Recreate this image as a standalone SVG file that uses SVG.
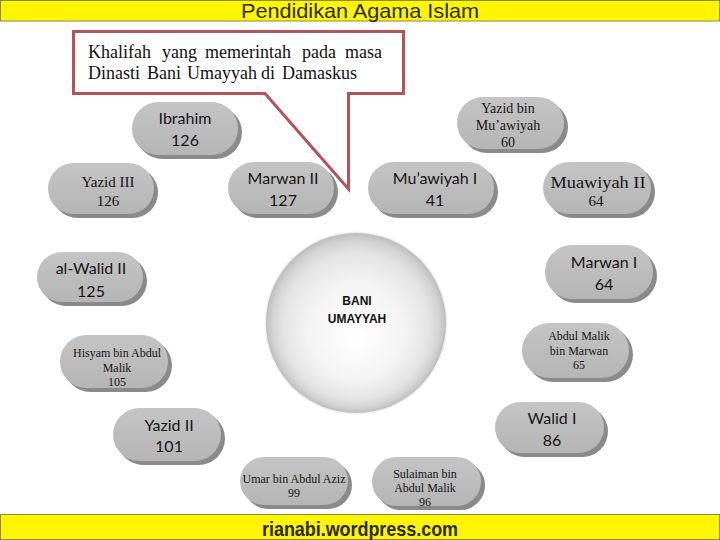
<svg xmlns="http://www.w3.org/2000/svg" width="720" height="540" viewBox="0 0 720 540">
<style>
  .banner{fill:#fff500;stroke:#8c8a3c;stroke-width:1}
  .btxt{font-family:"Liberation Sans",Arial,sans-serif;fill:#2a2a1a;text-anchor:middle}
  .pill{fill:url(#pillg)}
  .shadow{fill:#8a8a8a}
  .sans{font-family:Lato,"Liberation Sans",sans-serif;font-size:16px;fill:#151515;text-anchor:middle}
  .serif{font-family:"Liberation Serif","Times New Roman",serif;fill:#151515;text-anchor:middle}
  .s12{font-size:12px}
  .s14{font-size:14px}
  .s15{font-size:15px}
  .callout{fill:#ffffff;stroke:#b35558;stroke-width:3;stroke-linejoin:miter}
  .ctxt{font-family:"Liberation Serif","Times New Roman",serif;font-size:18px;fill:#111}
  .center{font-family:"Liberation Sans",Arial,sans-serif;font-size:12px;font-weight:bold;fill:#111;text-anchor:middle}
</style>
<defs>
  <linearGradient id="pillg" x1="0" y1="0" x2="0" y2="1">
    <stop offset="0" stop-color="#c4c4c4"/>
    <stop offset="1" stop-color="#b5b5b5"/>
  </linearGradient>
  <radialGradient id="ball" cx="0.5" cy="0.5" r="0.5" fx="0.5" fy="0.6">
    <stop offset="0" stop-color="#ffffff"/>
    <stop offset="0.55" stop-color="#f3f3f3"/>
    <stop offset="0.82" stop-color="#e3e3e3"/>
    <stop offset="0.93" stop-color="#d2d2d2"/>
    <stop offset="1" stop-color="#bdbdbd"/>
  </radialGradient>
</defs>
<rect width="720" height="540" fill="#ffffff"/>

<g id="header">
  <rect class="banner" x="0.5" y="0.5" width="719" height="20.5"/>
  <text class="btxt" x="360" y="18" font-size="21" textLength="238" lengthAdjust="spacingAndGlyphs">Pendidikan Agama Islam</text>
</g>

<g id="footer">
  <rect class="banner" x="0.5" y="514.5" width="719" height="25"/>
  <text class="btxt" x="360" y="536" font-size="21" font-weight="bold" textLength="196" lengthAdjust="spacingAndGlyphs">rianabi.wordpress.com</text>
</g>

<g id="center-node">
  <circle cx="356" cy="323" r="91.5" fill="#e4e4e4" opacity="0.6"/>
  <circle cx="356" cy="323" r="90" fill="url(#ball)"/>
  <text class="center" x="357" y="305">BANI</text>
  <text class="center" x="357" y="323">UMAYYAH</text>
</g>

<g id="n-ibrahim">
  <rect class="shadow" x="136" y="106" width="106" height="53" rx="26.5"/>
  <rect class="pill" x="132" y="102" width="106" height="53" rx="26.5"/>
  <text class="sans" x="185" y="124">Ibrahim</text>
  <text class="sans" x="185" y="146">126</text>
</g>

<g id="n-yazid3">
  <rect class="shadow" x="52" y="167" width="106" height="51" rx="25.5"/>
  <rect class="pill" x="48" y="163" width="106" height="51" rx="25.5"/>
  <text class="serif s15" x="108" y="187">Yazid III</text>
  <text class="serif s15" x="108" y="206">126</text>
</g>

<g id="n-marwan2">
  <rect class="shadow" x="232" y="166" width="106" height="52" rx="26"/>
  <rect class="pill" x="228" y="162" width="106" height="52" rx="26"/>
  <text class="sans" x="283" y="184">Marwan II</text>
  <text class="sans" x="283" y="206">127</text>
</g>

<g id="n-walid2">
  <rect class="shadow" x="41" y="256" width="106" height="50" rx="25"/>
  <rect class="pill" x="37" y="252" width="106" height="50" rx="25"/>
  <text class="sans" x="91" y="274">al-Walid II</text>
  <text class="sans" x="91" y="297">125</text>
</g>

<g id="n-yazid-bin-muawiyah">
  <rect class="shadow" x="461" y="101" width="107" height="52" rx="26"/>
  <rect class="pill" x="457" y="97" width="107" height="52" rx="26"/>
  <text class="serif s14" x="508" y="113">Yazid bin</text>
  <text class="serif s14" x="508" y="130">Mu’awiyah</text>
  <text class="serif s14" x="508" y="147">60</text>
</g>

<g id="n-muawiyah1">
  <rect class="shadow" x="372" y="166" width="126" height="52" rx="26"/>
  <rect class="pill" x="368" y="162" width="126" height="52" rx="26"/>
  <text class="sans" x="435" y="184">Mu’awiyah I</text>
  <text class="sans" x="435" y="206">41</text>
</g>

<g id="n-muawiyah2">
  <rect class="shadow" x="547" y="166" width="108" height="52" rx="26"/>
  <rect class="pill" x="543" y="162" width="108" height="52" rx="26"/>
  <text class="serif" font-size="16" x="598" y="188" textLength="95" lengthAdjust="spacingAndGlyphs">Muawiyah II</text>
  <text class="serif s15" x="596" y="206">64</text>
</g>

<g id="n-marwan1">
  <rect class="shadow" x="549" y="249" width="108" height="54" rx="27"/>
  <rect class="pill" x="545" y="245" width="108" height="54" rx="27"/>
  <text class="sans" x="604" y="268">Marwan I</text>
  <text class="sans" x="604" y="290">64</text>
</g>

<g id="n-hisyam">
  <rect class="shadow" x="64" y="339" width="108" height="53" rx="26.5"/>
  <rect class="pill" x="60" y="335" width="108" height="53" rx="26.5"/>
  <text class="serif s12" x="117" y="357">Hisyam bin Abdul</text>
  <text class="serif s12" x="117" y="372">Malik</text>
  <text class="serif s12" x="117" y="386">105</text>
</g>

<g id="n-abdulmalik">
  <rect class="shadow" x="526" y="327" width="107" height="55" rx="27.5"/>
  <rect class="pill" x="522" y="323" width="107" height="55" rx="27.5"/>
  <text class="serif s12" x="579" y="340">Abdul Malik</text>
  <text class="serif s12" x="579" y="355">bin Marwan</text>
  <text class="serif s12" x="579" y="369">65</text>
</g>

<g id="n-yazid2">
  <rect class="shadow" x="117" y="412" width="108" height="53" rx="26.5"/>
  <rect class="pill" x="113" y="408" width="108" height="53" rx="26.5"/>
  <text class="sans" x="169" y="431">Yazid II</text>
  <text class="sans" x="169" y="452">101</text>
</g>

<g id="n-walid1">
  <rect class="shadow" x="499" y="406" width="109" height="51" rx="25.5"/>
  <rect class="pill" x="495" y="402" width="109" height="51" rx="25.5"/>
  <text class="sans" x="552" y="424">Walid I</text>
  <text class="sans" x="552" y="446">86</text>
</g>

<g id="n-umar">
  <rect class="shadow" x="244" y="461" width="108" height="48" rx="24"/>
  <rect class="pill" x="240" y="457" width="108" height="48" rx="24"/>
  <text class="serif s12" x="294" y="483">Umar bin Abdul Aziz</text>
  <text class="serif s12" x="294" y="497">99</text>
</g>

<g id="n-sulaiman">
  <rect class="shadow" x="376" y="461" width="109" height="49" rx="24.5"/>
  <rect class="pill" x="372" y="457" width="109" height="49" rx="24.5"/>
  <text class="serif s12" x="425" y="478">Sulaiman bin</text>
  <text class="serif s12" x="425" y="492">Abdul Malik</text>
  <text class="serif s12" x="425" y="506">96</text>
</g>

<g id="callout">
  <path class="callout" d="M73.5,31.5 H403.5 V93.5 H348.5 V189 L265,93.5 H73.5 Z"/>
  <text class="ctxt" y="58"><tspan x="88">Khalifah</tspan><tspan x="162">yang</tspan><tspan x="205">memerintah</tspan><tspan x="302">pada</tspan><tspan x="345">masa</tspan></text>
  <text class="ctxt" y="79"><tspan x="88">Dinasti</tspan><tspan x="147">Bani</tspan><tspan x="187">Umayyah</tspan><tspan x="261">di</tspan><tspan x="282">Damaskus</tspan></text>
</g>
</svg>
